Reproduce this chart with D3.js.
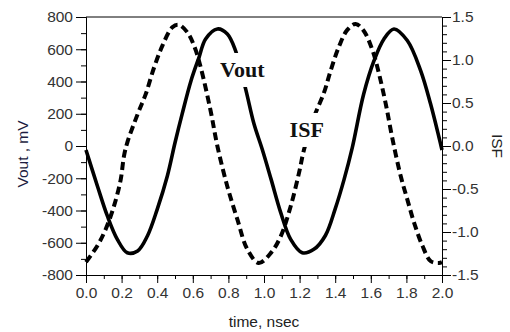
<!DOCTYPE html>
<html>
<head>
<meta charset="utf-8">
<script src="https://cdn.jsdelivr.net/npm/d3@7"></script>
<style>
  body { margin: 0; background: #fff; }
  svg { display: block; }
  .tick text { font-family: "Liberation Sans", Arial, sans-serif; font-size: 15.5px; fill: #333; }
</style>
</head>
<body>
<div id="chart"></div>
<script>
// Vout (left axis, mV)
var voutTime = [0.00, 0.064, 0.12, 0.176, 0.232, 0.29, 0.345, 0.40, 0.457, 0.50, 0.54, 0.59, 0.635, 0.672, 0.738, 0.794, 0.84,
                0.897, 0.944, 0.99, 1.04, 1.094, 1.15, 1.215, 1.28, 1.345, 1.40, 1.45, 1.496, 1.56, 1.618, 1.674, 1.73,
                1.805, 1.88, 1.936, 1.983, 2.00];
var voutMv = [-25, -248, -434, -579, -662, -651, -558, -393, -186, 20, 198, 405, 550, 664, 726, 695, 592,
              353, 136, -20, -207, -413, -579, -662, -641, -555, -390, -207, -10, 322, 529, 664, 726,
              654, 468, 260, 54, -25];

// ISF (right axis)
var isfTime = [0.00, 0.064, 0.11, 0.157, 0.195, 0.213, 0.232, 0.29, 0.335, 0.382, 0.43, 0.485, 0.52, 0.57, 0.61, 0.645,
               0.70, 0.738, 0.794, 0.85, 0.906, 0.97, 1.04, 1.094, 1.15, 1.197, 1.225, 1.28, 1.337, 1.375, 1.42,
               1.468, 1.515, 1.56, 1.61, 1.646, 1.684, 1.72, 1.768, 1.805, 1.843, 1.89, 1.937, 1.983, 2.00];
var isfVal = [-1.35, -1.16, -0.97, -0.70, -0.39, -0.12, 0.04, 0.37, 0.60, 0.91, 1.17, 1.38, 1.41, 1.32, 1.15, 0.91,
              0.41, 0.00, -0.47, -0.85, -1.20, -1.36, -1.24, -1.05, -0.70, -0.31, -0.04, 0.33, 0.62, 0.88, 1.15,
              1.35, 1.42, 1.34, 1.11, 0.84, 0.49, 0.10, -0.35, -0.62, -0.89, -1.16, -1.34, -1.36, -1.35];

var timeTicks = [0, 0.2, 0.4, 0.6, 0.8, 1.0, 1.2, 1.4, 1.6, 1.8, 2.0];
var voutTicks = [-800, -600, -400, -200, 0, 200, 400, 600, 800];
var isfTicks = [-1.5, -1.0, -0.5, 0.0, 0.5, 1.0, 1.5];

var width = 510, height = 332;
var margin = {top: 17, right: 68, bottom: 57, left: 86};
var w = width - margin.left - margin.right,
    h = height - margin.top - margin.bottom;

var svg = d3.select("#chart").append("svg")
    .attr("width", width)
    .attr("height", height);

var g = svg.append("g")
    .attr("transform", "translate(" + margin.left + "," + margin.top + ")");

var x = d3.scaleLinear().domain([0, 2]).range([0, w]);
var yL = d3.scaleLinear().domain([-800, 800]).range([h, 0]);
var yR = d3.scaleLinear().domain([-1.5, 1.5]).range([h, 0]);

function dash(s) { return s.replace("\u2212", "-"); }

// minor ticks first, majors on top
g.append("g").attr("transform", "translate(0," + h + ")")
    .call(d3.axisBottom(x).tickValues(d3.range(0, 2.01, 0.1)).tickSize(4).tickFormat(""));
g.append("g").attr("transform", "translate(0," + h + ")")
    .call(d3.axisBottom(x).tickValues(timeTicks).tickSize(8).tickSizeOuter(0).tickPadding(4)
        .tickFormat(function(d) { return d3.format(".1f")(d); }));

g.append("g")
    .call(d3.axisLeft(yL).tickValues(d3.range(-800, 801, 100)).tickSize(5).tickFormat(""));
g.append("g")
    .call(d3.axisLeft(yL).tickValues(voutTicks).tickSize(10).tickSizeOuter(0).tickPadding(3)
        .tickFormat(function(d) { return dash(d3.format("d")(d)); }));

g.append("g").attr("transform", "translate(" + w + ",0)")
    .call(d3.axisRight(yR).tickValues(d3.range(-15, 16, 1).map(function(d) { return d / 10; })).tickSize(5).tickFormat(""));
g.append("g").attr("transform", "translate(" + w + ",0)")
    .call(d3.axisRight(yR).tickValues(isfTicks).tickSize(9).tickSizeOuter(0).tickPadding(1)
        .tickFormat(function(d) { return dash(d3.format(".1f")(d)); }));

// top frame line
g.append("line").attr("x1", 0).attr("x2", w).attr("y1", 0).attr("y2", 0)
    .attr("stroke", "#000").attr("stroke-width", 1);

g.selectAll(".domain").attr("stroke", "#000");
g.selectAll(".tick line").attr("stroke", "#000");

var vout = voutTime.map(function(t, i) { return {t: t, v: voutMv[i]}; });
var isf = isfTime.map(function(t, i) { return {t: t, v: isfVal[i]}; });

g.append("path")
    .datum(isf)
    .attr("fill", "none")
    .attr("stroke", "#000")
    .attr("stroke-width", 4)
    .attr("stroke-dasharray", "8,4.5")
    .attr("d", d3.line().curve(d3.curveCatmullRom)
        .x(function(d) { return x(d.t); })
        .y(function(d) { return yR(d.v); }));

g.append("path")
    .datum(vout)
    .attr("fill", "none")
    .attr("stroke", "#000")
    .attr("stroke-width", 3.6)
    .attr("d", d3.line().curve(d3.curveCatmullRom)
        .x(function(d) { return x(d.t); })
        .y(function(d) { return yL(d.v); }));

// in-plot labels with white backing
function tag(label, t, y) {
    var lab = g.append("g");
    var txt = lab.append("text")
        .attr("x", x(t)).attr("y", y)
        .attr("text-anchor", "middle")
        .style("font-family", "'Liberation Serif', 'Times New Roman', serif")
        .style("font-weight", "bold")
        .style("font-size", "22px")
        .attr("fill", "#111")
        .text(label);
    var b = txt.node().getBBox();
    lab.insert("rect", "text")
        .attr("x", b.x - 2).attr("y", b.y - 4)
        .attr("width", b.width + 4).attr("height", b.height + 9)
        .attr("fill", "#fff");
}
tag("Vout", 0.878, yL(428));
tag("ISF", 1.24, yR(0.105));

// axis titles
svg.append("text")
    .attr("x", margin.left + w / 2).attr("y", 327)
    .attr("text-anchor", "middle")
    .style("font-family", "'Liberation Sans', Arial, sans-serif")
    .style("font-size", "15.5px")
    .attr("fill", "#222")
    .text("time, nsec");

svg.append("text")
    .attr("transform", "translate(28,154) rotate(-90)")
    .attr("text-anchor", "middle")
    .style("font-family", "'Liberation Sans', Arial, sans-serif")
    .style("font-size", "15.5px")
    .attr("fill", "#1c1c40")
    .text("Vout , mV");

svg.append("text")
    .attr("transform", "translate(492,146) rotate(90)")
    .attr("text-anchor", "middle")
    .style("font-family", "'Liberation Sans', Arial, sans-serif")
    .style("font-size", "15.5px")
    .attr("fill", "#222")
    .text("ISF");
</script>
</body>
</html>
